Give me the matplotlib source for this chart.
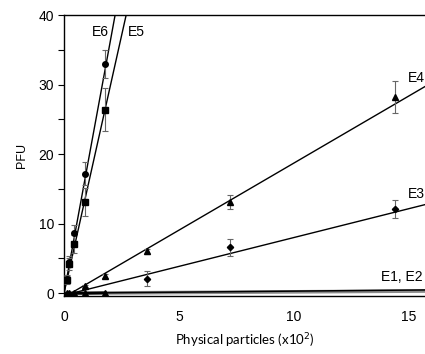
import matplotlib
matplotlib.use("Agg")
import matplotlib.pyplot as plt
import numpy as np

plt.rcParams['font.family'] = ['Liberation Sans', 'DejaVu Sans']

# Data (physical particles x10^2 vs PFU)
x_e6 = [0.1125, 0.225, 0.45, 0.9, 1.8]
y_e6 = [2.0, 4.5, 8.6, 17.2, 33.0]
err_e6 = [0.6, 0.8, 1.2, 1.6, 2.0]

x_e5 = [0.1125, 0.225, 0.45, 0.9, 1.8]
y_e5 = [1.9, 4.2, 7.1, 13.1, 26.4]
err_e5 = [0.6, 0.8, 1.3, 2.0, 3.1]

x_e4 = [0.9, 1.8, 3.6, 7.2, 14.4]
y_e4 = [1.05, 2.5, 6.0, 13.1, 28.2]
err_e4 = [0.2, 0.3, 0.4, 1.0, 2.3]

x_e3 = [3.6, 7.2, 14.4]
y_e3 = [2.1, 6.6, 12.1]
err_e3 = [1.1, 1.2, 1.3]

x_e12 = [0.1125, 0.225, 0.45, 0.9, 1.8]
y_e12 = [0.0, 0.0, 0.0, 0.0, 0.05]

# Regression lines: slope, x-intercept
fit_slopes = {'E6': 18.0, 'E5': 14.8, 'E4': 1.93, 'E3': 0.83, 'E1': 0.03, 'E2': 0.02}
fit_x0 = {'E6': 0.0, 'E5': 0.0, 'E4': 0.3, 'E3': 0.35, 'E1': 0.0, 'E2': 0.0}

fig = plt.figure(figsize=(4.25, 3.54), dpi=100)
W, H = 425, 354
left_px, top_px, bottom_px = 64, 15, 296
xmax = 17.0
px_per_unit = 23.0
ax = fig.add_axes([left_px / W, (H - bottom_px) / H,
                   xmax * px_per_unit / W, (bottom_px - top_px) / H])
ax.set_xlim(0, xmax)
ax.set_ylim(-0.4, 40)

xx = np.linspace(0, xmax, 400)
for name in ['E2']:
    yy = fit_slopes[name] * (xx - fit_x0[name])
    ax.plot(xx, yy, color='#8a8a8a', lw=2.6, zorder=2)
for name in ['E1']:
    yy = fit_slopes[name] * (xx - fit_x0[name])
    ax.plot(xx, yy, color='black', lw=1.1, zorder=3)
for name in ['E6', 'E5', 'E4', 'E3']:
    xs = np.linspace(fit_x0[name], xmax, 600)
    yy = fit_slopes[name] * (xs - fit_x0[name])
    ax.plot(xs, yy, color='black', lw=1.0, zorder=3)

ekw = dict(ecolor='#666666', elinewidth=0.8, capsize=2.5, capthick=0.8, ls='none', color='black', zorder=4)
ax.errorbar(x_e6, y_e6, yerr=err_e6, marker='o', ms=4, **ekw)
ax.errorbar(x_e5, y_e5, yerr=err_e5, marker='s', ms=4.5, **ekw)
ax.errorbar(x_e4, y_e4, yerr=err_e4, marker='^', ms=4.5, **ekw)
ax.errorbar(x_e3, y_e3, yerr=err_e3, marker='D', ms=3.2, **ekw)
ax.plot(x_e12, y_e12, marker='^', ms=4.5, color='black', ls='-', lw=2.0, zorder=4)

fs = 10
ax.text(1.22, 37.6, 'E6', fontsize=fs, ha='left', va='center')
ax.text(2.77, 37.6, 'E5', fontsize=fs, ha='left', va='center')
ax.text(14.95, 31.0, 'E4', fontsize=fs, ha='left', va='center')
ax.text(14.95, 14.2, 'E3', fontsize=fs, ha='left', va='center')
ax.text(13.8, 2.3, 'E1, E2', fontsize=fs, ha='left', va='center')

ax.set_yticks([0, 10, 20, 30, 40])
ax.set_yticks([5, 15, 25, 35], minor=True)
ax.set_xticks([0, 5, 10, 15])
ax.set_xticklabels(['0', '5', '10', '15'])
ax.tick_params(axis='y', which='both', direction='out', length=4, width=0.8, labelsize=10, pad=3)
ax.tick_params(axis='x', which='both', length=0, labelsize=10, pad=10)
for s in ax.spines.values():
    s.set_linewidth(1.0)

ax.set_ylabel('PFU', fontsize=9, labelpad=7.5)
ax.set_xlabel('')
fig.text(245 / W, (H - 341) / H, 'Physical particles (x10$^{2}$)',
         fontsize=9.5, family=['Lato', 'DejaVu Sans'], ha='center', va='center')

fig.savefig('out.png', dpi=100)
